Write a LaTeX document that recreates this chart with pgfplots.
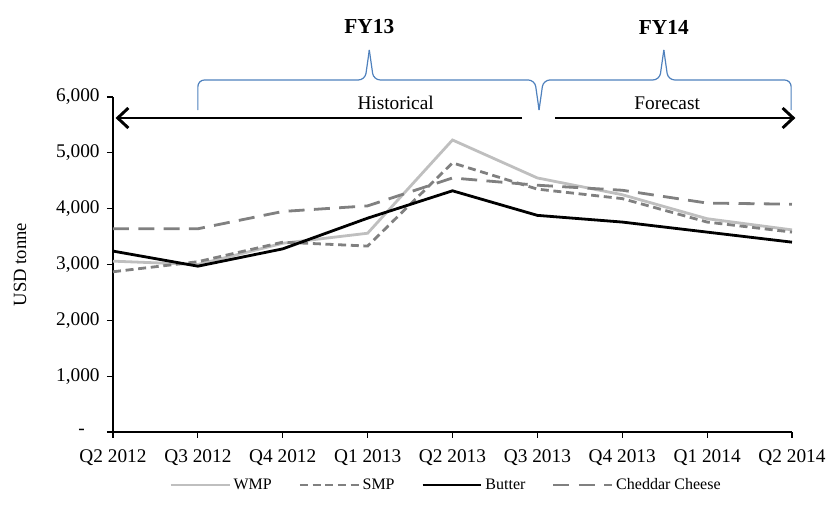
\documentclass[border=0pt]{standalone}
\usepackage{fontspec}
\setmainfont{Liberation Serif}
\usepackage{pgfplots}
\pgfplotsset{compat=1.18}
\usetikzlibrary{arrows.meta}
\definecolor{lgray}{RGB}{191,191,191}
\definecolor{dgray}{RGB}{128,128,128}
\definecolor{brblue}{RGB}{79,129,189}
\begin{document}
\begin{tikzpicture}
\useasboundingbox (-84.75pt,-64.5pt) rectangle (534.75pt,324pt);
\begin{axis}[
  at={(0,0)}, anchor=south west,
  scale only axis, width=509.25pt, height=251.25pt,
  xmin=0, xmax=8, ymin=0, ymax=6000,
  axis lines*=left, axis line style={line width=1pt},
  xtick={0,...,8},
  xticklabels={Q2 2012,Q3 2012,Q4 2012,Q1 2013,Q2 2013,Q3 2013,Q4 2013,Q1 2014,Q2 2014},
  ytick={0,1000,...,6000},
  yticklabels={{\makebox[16pt][l]{-}},{1,000},{2,000},{3,000},{4,000},{5,000},{6,000}},
  tick align=outside, major tick length=4.5pt,
  tick style={black, line width=0.8pt},
  ticklabel style={font=\fontsize{14.5}{16}\selectfont},
  xticklabel style={yshift=-5pt},
  yticklabel style={xshift=-2pt},
  ylabel={USD tonne},
  ylabel style={font=\fontsize{14}{16}\selectfont, at={(axis description cs:-0.137,0.5)}, anchor=center},
  clip=false,
  legend style={at={(0.491,-0.158)}, anchor=center, draw=none, legend columns=4,
    font=\fontsize{12}{14}\selectfont, /tikz/every even column/.append style={column sep=18pt},
    /tikz/every odd column/.append style={column sep=0pt}},
  legend image code/.code={\draw[#1] (0pt,0pt) -- (44pt,0pt);},
]
\addplot[lgray, line width=2.1pt] coordinates {(0,3060) (1,3000) (2,3380) (3,3560) (4,5230) (5,4550) (6,4250) (7,3820) (8,3620)};
\addlegendentry{WMP}
\addplot[dgray, line width=2.1pt, dash pattern=on 6pt off 3.5pt] coordinates {(0,2870) (1,3050) (2,3400) (3,3330) (4,4820) (5,4350) (6,4180) (7,3760) (8,3580)};
\addlegendentry{SMP}
\addplot[black, line width=2.1pt] coordinates {(0,3240) (1,2970) (2,3280) (3,3830) (4,4320) (5,3880) (6,3760) (7,3580) (8,3400)};
\addlegendentry{Butter}
\addplot[dgray, line width=2.1pt, dash pattern=on 12pt off 7pt] coordinates {(0,3640) (1,3640) (2,3950) (3,4050) (4,4550) (5,4420) (6,4330) (7,4100) (8,4080)};
\addlegendentry{Cheddar Cheese}
% annotations
\draw[black, line width=2.2pt, -{Straight Barb[length=8pt,width=15pt]}] (axis cs:4.82,5624) -- (axis cs:0.03,5624);
\draw[black, line width=2.2pt, -{Straight Barb[length=8pt,width=15pt]}] (axis cs:5.21,5624) -- (axis cs:8.04,5624);
\draw[brblue, line width=0.9pt, rounded corners=5pt] (axis cs:1,5767) -- (axis cs:1,6305) -- (axis cs:2.97,6305) -- (axis cs:3.02,6842);
\draw[brblue, line width=0.9pt, rounded corners=5pt] (axis cs:3.02,6842) -- (axis cs:3.07,6305) -- (axis cs:4.97,6305) -- (axis cs:5.02,5767);
\draw[brblue, line width=0.9pt, rounded corners=5pt] (axis cs:5.02,5767) -- (axis cs:5.07,6305) -- (axis cs:6.44,6305) -- (axis cs:6.49,6842);
\draw[brblue, line width=0.9pt, rounded corners=5pt] (axis cs:6.49,6842) -- (axis cs:6.54,6305) -- (axis cs:7.99,6305) -- (axis cs:7.99,5767);
\node[font=\fontsize{14.5}{16}\selectfont] at (axis cs:3.33,5893) {Historical};
\node[font=\fontsize{14.5}{16}\selectfont] at (axis cs:6.53,5893) {Forecast};
\node[font=\bfseries\fontsize{16}{18}\selectfont] at (axis cs:3.02,7254) {FY13};
\node[font=\bfseries\fontsize{16}{18}\selectfont] at (axis cs:6.49,7254) {FY14};
\end{axis}
\end{tikzpicture}
\end{document}
